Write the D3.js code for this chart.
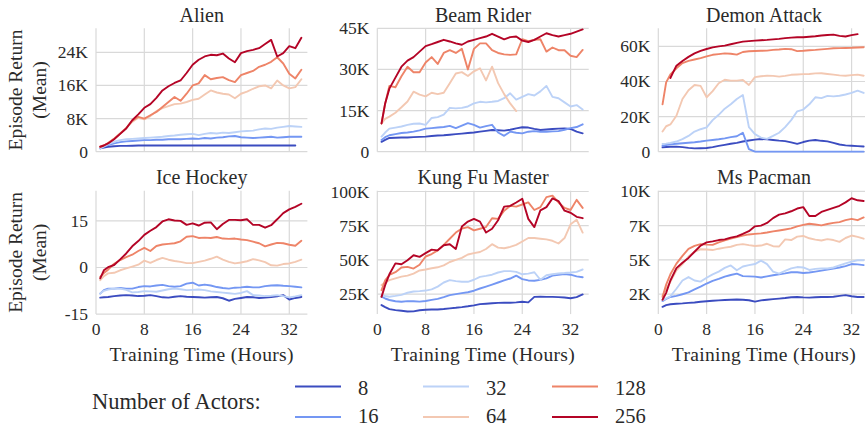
<!DOCTYPE html>
<html>
<head>
<meta charset="utf-8">
<script src="https://cdn.jsdelivr.net/npm/d3@7"></script>
<style>
  body { margin: 0; background: #ffffff; }
  svg { display: block; }
</style>
</head>
<body>
<svg id="chart" width="865" height="427"></svg>
<script>
const FONT = "'Liberation Serif', 'DejaVu Serif', 'Noto Serif', serif";

// Training time (hours) at which every curve is sampled
const HOURS = [0.7, 1.3, 2, 3, 4, 5, 6, 7, 8, 9, 10, 11, 12, 13, 14, 15, 16, 17, 18, 19, 20, 21, 22, 23, 24, 25, 26, 27, 28, 29, 30, 31, 32, 33, 34];
const ACTORS = [8, 16, 32, 64, 128, 256];
const X_TICKS = [0, 8, 16, 24, 32];

// Alien (thousands)
const ALIEN_8   = [0.8,1.0, 1.2,1.3,1.4,1.4,1.45,1.5,1.5,1.5,1.5,1.5, 1.5,1.5,1.5,1.5,1.5,1.5,1.5,1.5,1.5,1.5, 1.5,1.5,1.5,1.5,1.5,1.5,1.5,1.5,1.5,1.5, 1.5,1.5,null];
const ALIEN_16  = [0.8,1.2, 1.6,2.0,2.3,2.5,2.6,2.7,2.8,2.8,2.9,2.9, 3.0,3.0,3.0,3.1,3.2,3.1,3.3,3.2,3.4,3.5, 3.7,3.8,3.5,3.4,3.3,3.4,3.5,3.6,3.4,3.5, 3.6,3.6,3.6];
const ALIEN_32  = [0.8,1.3, 1.8,2.4,2.8,3.0,3.1,3.2,3.3,3.4,3.5,3.6, 3.8,3.9,4.1,4.2,4.3,4.0,4.3,4.5,4.4,4.6, 4.5,4.7,4.9,5.0,5.1,5.4,5.6,5.5,5.8,6.0, 6.2,6.1,6.0];
const ALIEN_64  = [1.1,1.5, 2.1,3.2,4.4,5.7,7.2,8.2,7.8,8.6,9.8,10.5, 11.0,11.5,11.6,12.0,12.5,12.8,13.8,14.8,14.3,14.0, 13.8,12.9,14.0,14.5,15.2,15.8,16.0,15.3,17.2,16.0, 15.3,15.6,17.5];
const ALIEN_128 = [1.2,1.5, 2.1,3.1,4.4,5.7,7.5,8.4,8.0,8.8,9.6,10.8, 12.0,13.2,12.3,14.0,16.0,16.5,18.5,17.5,17.8,18.0, 17.3,16.8,18.5,19.0,19.5,20.5,21.0,21.7,22.8,21.3, 18.8,17.7,19.8];
const ALIEN_256 = [1.2,1.5, 2.0,3.0,4.3,5.6,7.6,9.0,10.6,11.5,13.0,14.8, 15.8,16.6,17.2,19.0,21.0,22.2,23.0,23.4,23.3,23.7, 22.5,21.6,23.8,24.3,24.6,25.0,26.0,27.0,23.0,23.8, 25.5,25.0,27.5];

// Beam Rider (thousands)
const BEAM_8   = [3.6,4.3, 5.0,5.1,5.2,5.2,5.3,5.4,5.5,5.7,5.9,6.0, 6.2,6.4,6.6,6.8,7.0,7.3,7.6,7.9,7.8,7.7, 8.0,8.5,8.9,8.8,8.3,7.9,8.1,8.3,8.4,8.5, 8.3,7.3,6.7];
const BEAM_16  = [4.3,5.3, 6.0,6.4,6.8,7.0,7.3,7.8,8.4,8.6,8.8,9.0, 9.4,8.6,9.5,10.4,9.8,8.8,9.3,9.8,7.0,5.8, 7.3,6.9,6.7,7.3,7.5,7.3,7.3,7.4,7.5,8.0, 8.6,9.0,10.0];
const BEAM_32  = [5.5,7.0, 8.4,8.8,9.2,9.8,10.2,10.3,9.8,12.3,12.6,13.5, 16.0,15.8,16.0,16.5,17.6,18.2,18.0,18.2,18.5,19.5, 21.3,19.0,20.0,21.0,20.5,22.0,24.0,20.0,19.5,18.0, 16.5,17.0,15.4];
const BEAM_64  = [10.3,12.0, 12.8,14.2,16.2,18.3,21.9,20.8,20.2,21.5,21.0,21.5, 25.0,28.5,29.0,27.6,29.3,30.4,26.0,31.0,25.0,21.0, 17.6,14.8,null,null,null,null,null,null,null,null, null,null,null];
const BEAM_128 = [10.3,17.5, 24.0,23.5,27.5,31.0,29.0,29.0,32.5,34.5,32.0,36.0, 37.0,36.0,37.5,30.0,37.5,39.5,39.5,37.0,36.0,35.5, 35.3,35.5,41.0,40.3,40.8,41.0,36.5,38.0,37.0,37.0, 35.0,34.5,37.1];
const BEAM_256 = [10.3,17.6, 23.0,27.0,31.0,33.2,34.5,36.5,38.5,39.2,40.0,40.8, 40.2,39.5,39.0,40.2,40.8,41.4,42.0,43.0,42.0,41.0, 41.8,42.0,40.5,40.0,40.8,42.0,43.2,42.5,42.0,42.5, 43.0,43.8,44.6];

// Demon Attack (thousands)
const DEMON_8   = [2.5,2.7, 2.8,2.9,2.6,2.2,1.9,2.0,2.1,2.6,3.3,3.9, 4.5,5.0,5.8,6.4,6.9,7.2,7.0,6.7,6.3,6.0, 5.3,4.5,5.5,6.3,6.7,6.2,5.9,5.0,4.1,3.6, 3.4,3.2,3.0];
const DEMON_16  = [3.4,3.8, 4.2,4.5,4.8,5.1,5.4,5.8,6.3,6.7,7.1,7.6, 8.3,8.8,10.8,1.5,0,0,0,0,0,0, 0,0,0,0,0,0,0,0,0,0, 0,0,0];
const DEMON_32  = [4.4,4.6, 5.0,5.8,7.2,9.0,11.5,12.8,13.9,18.0,21.0,24.5, 27.0,30.0,32.3,14.0,10.0,8.0,7.3,9.0,10.8,14.0, 18.0,23.0,24.0,27.0,31.0,30.5,31.8,31.5,31.9,32.6, 33.5,34.8,33.5];
const DEMON_64  = [11.5,14.5, 15.5,20.5,30.0,35.0,38.0,37.5,31.0,34.5,39.0,41.0, 40.5,40.5,40.9,38.0,42.5,43.0,43.3,43.2,42.8,43.2, 43.8,44.0,44.2,44.3,44.6,44.7,44.3,43.9,43.5,43.3, 43.6,43.9,43.3];
const DEMON_128 = [27.0,39.5, 44.0,47.5,50.5,51.7,52.5,53.3,54.3,55.2,55.6,56.0, 55.8,55.3,56.8,57.2,57.4,57.5,57.6,58.0,58.2,58.6, 58.4,57.3,57.5,57.8,58.0,58.3,58.6,58.9,59.0,59.1, 59.2,59.4,59.5];
const DEMON_256 = [null,null, 42.0,49.0,51.7,54.0,56.0,57.4,58.5,59.4,60.0,60.4, 61.2,62.0,62.7,63.0,63.3,63.5,63.7,64.0,64.3,64.7, 65.0,65.2,65.2,65.5,65.8,66.2,66.5,66.7,66.0,65.6, 66.4,67.0,null];

// Ice Hockey
const HOCKEY_8   = [-9.7,-9.6, -9.5,-9.2,-9.0,-8.9,-9.0,-9.2,-9.1,-8.9,-9.2,-9.6, -9.7,-9.4,-9.2,-9.4,-9.5,-9.6,-9.7,-9.6,-9.5,-9.9, -10.7,-10.1,-9.8,-9.5,-9.6,-9.8,-9.7,-9.5,-9.3,-8.9, -10.3,-9.8,-9.5];
const HOCKEY_16  = [-8.4,-7.3, -6.8,-6.8,-6.6,-6.8,-6.8,-6.3,-6.0,-6.1,-5.8,-5.6, -6.0,-6.2,-6.0,-5.2,-4.9,-5.8,-5.5,-5.8,-6.3,-6.6, -6.8,-6.5,-6.4,-6.2,-6.4,-6.4,-6.0,-5.8,-5.7,-5.9, -6.0,-6.2,-6.4];
const HOCKEY_32  = [-8.4,-7.5, -7.1,-6.8,-6.8,-7.2,-8.0,-7.9,-7.6,-7.7,-7.8,-7.4, -7.0,-6.8,-7.0,-7.3,-7.2,-7.1,-7.3,-7.7,-7.9,-8.1, -8.3,-8.5,-8.2,-7.6,-8.9,-9.0,-9.2,-9.1,-8.9,-9.2, -9.6,-9.3,-8.9];
const HOCKEY_64  = [-4.1,-2.8, -1.9,-1.7,-0.9,-0.3,0.3,0.9,2.2,1.5,2.4,3.1, 2.5,2.1,1.8,1.4,1.4,1.8,2.2,2.8,3.5,2.5, 1.8,1.3,1.6,2.0,2.7,2.3,1.7,0.7,0.6,1.1, 1.3,1.8,2.5];
const HOCKEY_128 = [-3.0,-1.8, -0.7,1.2,2.4,3.3,4.1,5.3,6.3,5.3,6.9,7.4, 7.6,7.8,8.4,9.9,10.1,9.5,9.6,9.5,9.8,9.3, 9.2,9.3,9.0,8.8,8.3,7.8,6.8,7.4,7.9,7.8, 7.3,7.0,8.6];
const HOCKEY_256 = [-3.5,-0.9, 0.1,0.8,2.6,4.5,6.8,8.5,10.5,11.8,13.0,14.8, 15.5,15.1,15.0,13.7,14.2,13.5,14.4,14.5,12.3,14.0, 15.3,15.3,15.2,15.5,13.7,13.7,12.8,13.6,15.5,17.5, 18.7,19.5,20.5];

// Kung Fu Master (thousands)
const KUNGFU_8   = [17.0,15.5, 14.0,13.3,12.8,12.3,12.4,13.2,13.6,13.8,13.8,14.1, 14.6,15.0,15.5,16.1,16.8,17.7,18.0,18.3,18.6,18.7, 18.7,19.0,19.4,19.0,23.0,23.2,23.0,23.0,22.8,22.5, 22.0,22.8,24.8];
const KUNGFU_16  = [23.1,21.8, 20.7,19.8,19.4,19.9,19.8,19.5,20.0,20.8,21.5,22.8, 24.3,25.0,25.7,26.4,27.5,29.1,30.5,32.0,33.5,35.0, 36.4,38.5,36.0,35.0,34.8,35.4,36.5,38.5,39.2,39.6, 39.2,38.0,37.3];
const KUNGFU_32  = [24.3,23.6, 23.1,23.7,24.5,26.0,26.9,27.2,27.6,28.5,30.5,33.5, 35.2,34.5,34.0,34.0,35.5,37.6,38.3,39.2,40.8,41.8, 41.8,41.3,39.5,40.0,41.0,35.5,38.8,39.5,40.1,40.4, 40.8,41.3,43.0];
const KUNGFU_64  = [31.6,33.5, 35.2,36.5,37.8,38.5,40.0,42.3,43.0,43.9,44.6,46.0, 48.5,50.0,51.5,54.0,55.0,55.8,58.0,61.5,59.0,58.5, 59.5,61.0,63.5,66.0,66.0,65.5,65.0,64.0,62.0,66.0, 76.0,79.4,70.0];
const KUNGFU_128 = [27.9,35.0, 39.0,41.0,44.5,44.9,43.7,46.5,52.5,54.3,57.0,61.0, 65.5,70.0,73.0,74.0,71.6,72.8,74.0,80.5,80.0,86.0, 89.5,89.0,90.5,92.0,86.5,88.6,95.9,97.0,92.0,88.0, 86.5,93.9,88.0];
const KUNGFU_256 = [23.0,31.6, 39.5,47.5,46.8,49.8,53.4,52.2,55.0,57.5,57.0,60.7, 61.5,58.0,74.5,78.0,80.0,78.0,70.0,72.8,79.0,89.0, 89.5,92.0,94.7,80.0,74.0,86.2,88.6,95.0,93.0,86.0, 84.5,81.5,80.5];

// Ms Pacman (thousands)
const PACMAN_8   = [1.58,1.7, 1.77,1.8,1.83,1.87,1.9,1.95,1.99,2.02,2.05,2.08, 2.1,2.11,2.1,2.06,1.96,2.05,2.1,2.14,2.18,2.22, 2.28,2.3,2.27,2.25,2.28,2.3,2.3,2.32,2.38,2.43, 2.35,2.3,2.3];
const PACMAN_16  = [2.0,2.15, 2.3,2.38,2.5,2.63,2.85,3.05,3.28,3.48,3.62,3.78, 3.9,4.0,3.82,3.8,3.78,3.72,3.8,3.88,3.96,4.02, 4.1,4.1,4.05,4.08,4.15,4.22,4.3,4.37,4.45,4.55, 4.7,4.68,4.62];
const PACMAN_32  = [2.05,2.2, 2.35,2.9,3.5,3.75,3.5,3.42,3.7,3.95,4.15,4.42, 4.6,4.25,4.52,4.62,4.7,4.95,4.7,4.15,4.0,4.2, 4.38,4.48,4.45,4.27,4.35,4.38,4.38,4.45,4.6,4.75, 4.88,4.98,4.98];
const PACMAN_64  = [2.4,2.9, 3.4,4.25,4.7,5.25,5.6,5.78,5.76,5.72,5.82,5.9, 5.96,6.1,6.15,6.08,6.02,6.05,6.18,6.0,5.98,6.5, 6.45,6.7,6.75,6.58,6.48,6.42,6.52,6.45,6.32,6.6, 6.78,6.68,6.55];
const PACMAN_128 = [2.3,3.2, 3.95,4.73,5.3,5.8,6.02,6.15,6.12,6.1,6.28,6.43, 6.56,6.67,6.77,6.86,6.9,6.94,7.0,7.08,7.15,7.22, 7.3,7.45,7.56,7.64,7.58,7.52,7.62,7.7,7.76,7.9, 8.0,7.9,8.1];
const PACMAN_256 = [2.1,2.6, 3.5,4.4,4.8,5.15,5.6,6.05,6.28,6.35,6.45,6.5, 6.63,6.72,6.9,7.1,7.45,7.5,7.7,8.05,8.3,8.4, 8.55,8.75,8.85,8.2,8.2,8.5,8.65,8.8,8.95,9.2, 9.5,9.35,9.3];

// Y ticks and their labels
const ALIEN_YTICKS = [0, 8, 16, 24];
const ALIEN_YLABELS = ["0", "8K", "16K", "24K"];
const BEAM_YTICKS = [0, 15, 30, 45];
const BEAM_YLABELS = ["0", "15K", "30K", "45K"];
const DEMON_YTICKS = [0, 20, 40, 60];
const DEMON_YLABELS = ["0", "20K", "40K", "60K"];
const HOCKEY_YTICKS = [-15, 0, 15];
const HOCKEY_YLABELS = ["-15", "0", "15"];
const KUNGFU_YTICKS = [25, 50, 75, 100];
const KUNGFU_YLABELS = ["25K", "50K", "75K", "100K"];
const PACMAN_YTICKS = [2.5, 5, 7.5, 10];
const PACMAN_YLABELS = ["2K", "5K", "7K", "10K"];

// coolwarm colours, one per actor count
const COLORS = ["#3b4cc0", "#7497f3", "#bcd2f7", "#f3c8b2", "#ee8468", "#b40426"];

const panels = [
  { title: "Alien", series: [ALIEN_8, ALIEN_16, ALIEN_32, ALIEN_64, ALIEN_128, ALIEN_256],
    domain: [0, 29.8], ticks: ALIEN_YTICKS, labels: ALIEN_YLABELS, col: 0, row: 0 },
  { title: "Beam Rider", series: [BEAM_8, BEAM_16, BEAM_32, BEAM_64, BEAM_128, BEAM_256],
    domain: [0, 45], ticks: BEAM_YTICKS, labels: BEAM_YLABELS, col: 1, row: 0 },
  { title: "Demon Attack", series: [DEMON_8, DEMON_16, DEMON_32, DEMON_64, DEMON_128, DEMON_256],
    domain: [0, 70.3], ticks: DEMON_YTICKS, labels: DEMON_YLABELS, col: 2, row: 0 },
  { title: "Ice Hockey", series: [HOCKEY_8, HOCKEY_16, HOCKEY_32, HOCKEY_64, HOCKEY_128, HOCKEY_256],
    domain: [-15, 24.7], ticks: HOCKEY_YTICKS, labels: HOCKEY_YLABELS, col: 0, row: 1 },
  { title: "Kung Fu Master", series: [KUNGFU_8, KUNGFU_16, KUNGFU_32, KUNGFU_64, KUNGFU_128, KUNGFU_256],
    domain: [10.4, 100.6], ticks: KUNGFU_YTICKS, labels: KUNGFU_YLABELS, col: 1, row: 1 },
  { title: "Ms Pacman", series: [PACMAN_8, PACMAN_16, PACMAN_32, PACMAN_64, PACMAN_128, PACMAN_256],
    domain: [1.05, 10.05], ticks: PACMAN_YTICKS, labels: PACMAN_YLABELS, col: 2, row: 1 }
];

// Layout of the 2x3 grid of axes
const COL_LEFT = [96, 377.3, 658.3];
const ROW_TOP = [28.3, 190.7];
const PLOT_W = 211.4;
const PLOT_H = 123.4;

const svg = d3.select("#chart");
const defs = svg.append("defs");

function label(sel) {
  return sel.attr("font-family", FONT).attr("fill", "#2a2a2a");
}

panels.forEach((p, i) => {
  const left = COL_LEFT[p.col];
  const top = ROW_TOP[p.row];
  const x = d3.scaleLinear().domain([0, 35]).range([left, left + PLOT_W]);
  const y = d3.scaleLinear().domain(p.domain).range([top + PLOT_H, top]);

  const g = svg.append("g");

  // grid
  g.selectAll(".vgrid").data(X_TICKS).join("line")
    .attr("x1", d => x(d)).attr("x2", d => x(d))
    .attr("y1", top).attr("y2", top + PLOT_H)
    .attr("stroke", "#d9d9d9").attr("stroke-width", 1.2);
  g.selectAll(".hgrid").data(p.ticks).join("line")
    .attr("x1", left).attr("x2", left + PLOT_W)
    .attr("y1", d => y(d)).attr("y2", d => y(d))
    .attr("stroke", "#d9d9d9").attr("stroke-width", 1.2);

  // y tick labels
  g.selectAll(".ylab").data(p.ticks).join("text")
    .call(label)
    .attr("x", left - 8).attr("y", d => y(d) + 6)
    .attr("text-anchor", "end").attr("font-size", 17.5)
    .text((d, k) => p.labels[k]);

  // x tick labels on the bottom row only
  if (p.row === 1) {
    g.selectAll(".xlab").data(X_TICKS).join("text")
      .call(label)
      .attr("x", d => x(d)).attr("y", top + PLOT_H + 21)
      .attr("text-anchor", "middle").attr("font-size", 17.5)
      .text(d => d);
    g.append("text").call(label)
      .attr("x", left + PLOT_W / 2).attr("y", top + PLOT_H + 46.5)
      .attr("text-anchor", "middle").attr("font-size", 19.5)
      .attr("letter-spacing", 0.35)
      .text("Training Time (Hours)");
  }

  // y axis title on the left column only
  if (p.col === 0) {
    const cy = top + PLOT_H / 2;
    g.append("text").call(label)
      .attr("transform", `translate(21.5,${cy}) rotate(-90)`)
      .attr("text-anchor", "middle").attr("font-size", 19.5)
      .text("Episode Return");
    g.append("text").call(label)
      .attr("transform", `translate(45.5,${cy}) rotate(-90)`)
      .attr("text-anchor", "middle").attr("font-size", 19.5)
      .text("(Mean)");
  }

  // panel title
  g.append("text").call(label)
    .attr("x", left + PLOT_W / 2).attr("y", top - 6.5)
    .attr("text-anchor", "middle").attr("font-size", 20)
    .text(p.title);

  // curves
  defs.append("clipPath").attr("id", "clip" + i)
    .append("rect").attr("x", left).attr("y", top - 1)
    .attr("width", PLOT_W).attr("height", PLOT_H + 2);

  const line = d3.line()
    .defined(d => d[1] !== null)
    .x(d => x(d[0])).y(d => y(d[1]));

  const lines = g.append("g").attr("clip-path", `url(#clip${i})`);
  p.series.forEach((vals, k) => {
    lines.append("path")
      .datum(HOURS.map((h, j) => [h, vals[j]]))
      .attr("d", line)
      .attr("fill", "none")
      .attr("stroke", COLORS[k])
      .attr("stroke-width", 1.9)
      .attr("stroke-linejoin", "round")
      .attr("stroke-linecap", "round");
  });
});

// legend
const legend = svg.append("g");
legend.append("text").call(label)
  .attr("x", 92).attr("y", 409).attr("font-size", 22.5)
  .text("Number of Actors:");
const LEG_X = [295, 423, 552];
const LEG_Y = [386.5, 417];
ACTORS.forEach((a, k) => {
  const cx = LEG_X[Math.floor(k / 2)];
  const cy = LEG_Y[k % 2];
  legend.append("line")
    .attr("x1", cx).attr("x2", cx + 46)
    .attr("y1", cy).attr("y2", cy)
    .attr("stroke", COLORS[k]).attr("stroke-width", 2);
  legend.append("text").call(label)
    .attr("x", cx + 63).attr("y", Math.min(cy + 8.5, 422.5))
    .attr("font-size", 20.5)
    .text(a);
});
</script>
</body>
</html>
